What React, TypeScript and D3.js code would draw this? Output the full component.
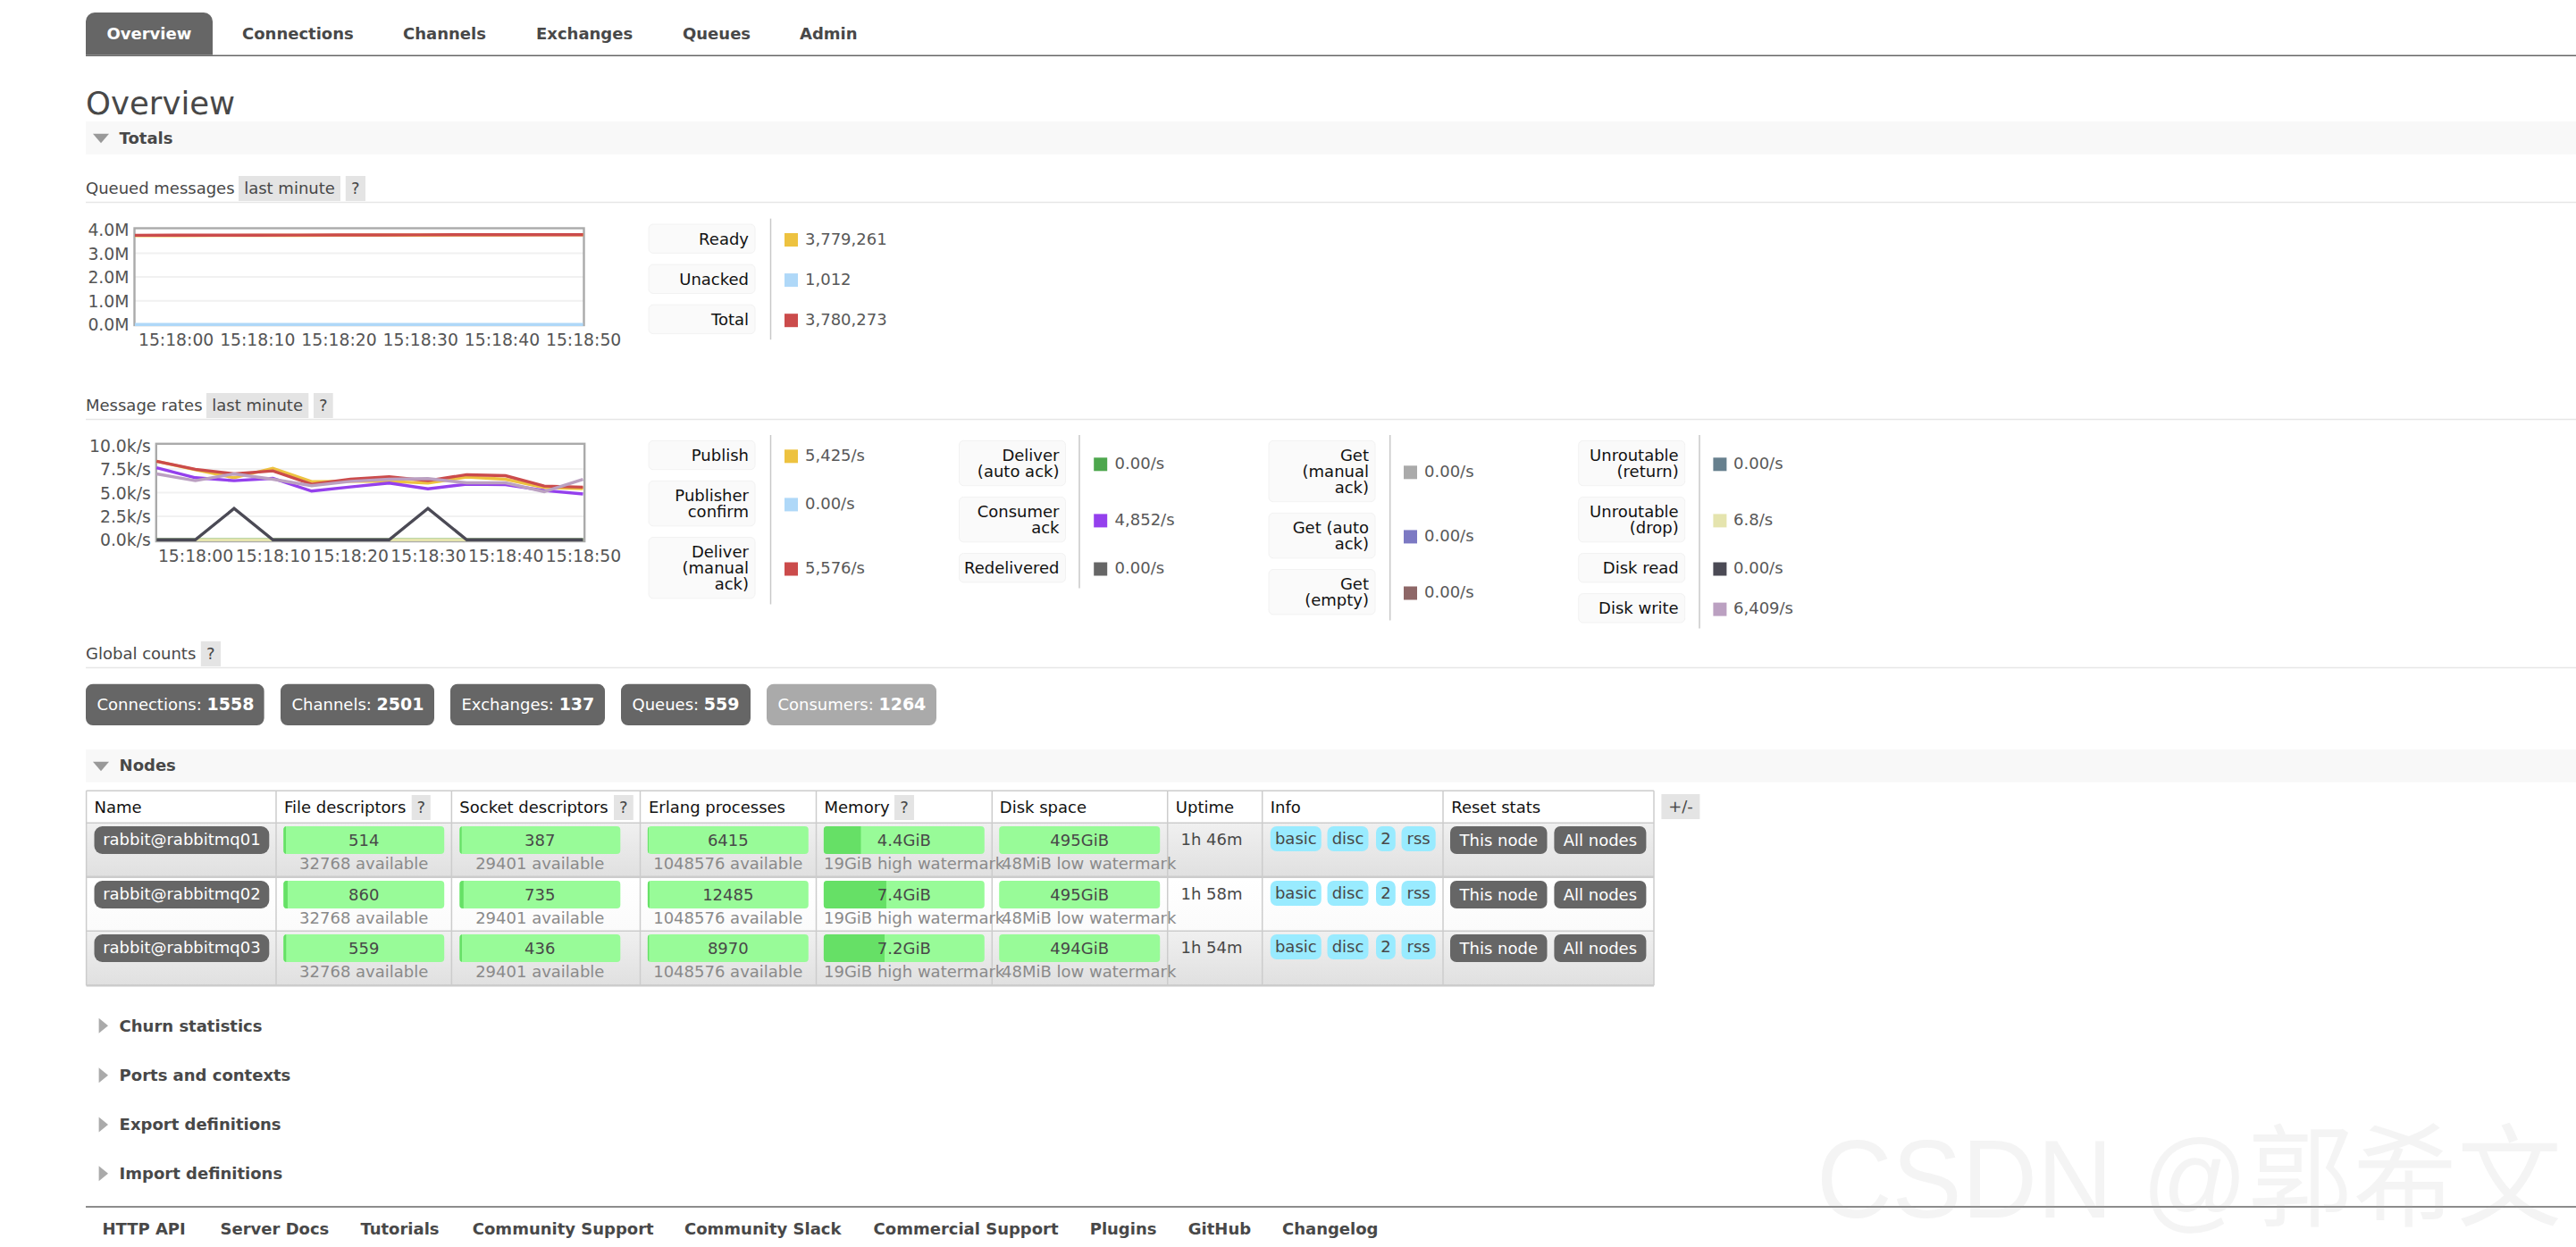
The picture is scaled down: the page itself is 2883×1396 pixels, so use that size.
import { useEffect, useRef } from 'react'
import * as d3 from 'd3'

// ---- data ----
const timeLabels = ['15:17:55', '15:18:00', '15:18:05', '15:18:10', '15:18:15', '15:18:20', '15:18:25', '15:18:30', '15:18:35', '15:18:40', '15:18:45', '15:18:50']
const tickLabels = ['15:18:00', '15:18:10', '15:18:20', '15:18:30', '15:18:40', '15:18:50']

const queuedTicks = [0, 1e6, 2e6, 3e6, 4e6]
const ready = [3742000, 3745000, 3748000, 3750000, 3753000, 3756000, 3759000, 3762000, 3766000, 3770000, 3774000, 3779261]
const unacked = [1040, 1020, 1035, 1010, 1000, 1025, 1015, 990, 1005, 1020, 1018, 1012]
const total = [3756000, 3759000, 3762000, 3764000, 3767000, 3770000, 3773000, 3776000, 3778000, 3779000, 3780000, 3780273]

const rateTicks = [0, 2500, 5000, 7500, 10000]
const publish = [8320, 7420, 6580, 7590, 6170, 6200, 6200, 6010, 6650, 6420, 5540, 5425]
const deliverManual = [8320, 7470, 6990, 7310, 5890, 6420, 6680, 6270, 6900, 6800, 5700, 5576]
const consumerAck = [7630, 6580, 6270, 6520, 5160, 5600, 6010, 5410, 5890, 5850, 5220, 4852]
const unroutableDrop = [0, 0, 6.8, 6.8, 0, 0, 0, 6.8, 6.8, 0, 0, 6.8]
const diskRead = [0, 0, 3320, 0, 0, 0, 0, 3320, 0, 0, 0, 0]
const diskWrite = [6990, 6270, 6990, 6420, 5730, 6200, 6420, 6490, 6040, 6040, 5100, 6409]
const zeros = [0, 0, 0, 0, 0, 0, 0, 0, 0, 0, 0, 0]

const navItems = ['Overview', 'Connections', 'Channels', 'Exchanges', 'Queues', 'Admin']
const footerItems = ['HTTP API', 'Server Docs', 'Tutorials', 'Community Support', 'Community Slack', 'Commercial Support', 'Plugins', 'GitHub', 'Changelog']
const collapsedSections = ['Churn statistics', 'Ports and contexts', 'Export definitions', 'Import definitions']

const queuedLegend = [
  { lines: ['Ready'], value: '3,779,261', color: '#edc240' },
  { lines: ['Unacked'], value: '1,012', color: '#afd8f8' },
  { lines: ['Total'], value: '3,780,273', color: '#cb4b4b' },
]
const rateLegend = [
  [
    { lines: ['Publish'], value: '5,425/s', color: '#edc240' },
    { lines: ['Publisher', 'confirm'], value: '0.00/s', color: '#afd8f8' },
    { lines: ['Deliver', '(manual', 'ack)'], value: '5,576/s', color: '#cb4b4b' },
  ],
  [
    { lines: ['Deliver', '(auto ack)'], value: '0.00/s', color: '#4da74d' },
    { lines: ['Consumer', 'ack'], value: '4,852/s', color: '#9440ed' },
    { lines: ['Redelivered'], value: '0.00/s', color: '#666666' },
  ],
  [
    { lines: ['Get', '(manual', 'ack)'], value: '0.00/s', color: '#aaaaaa' },
    { lines: ['Get (auto', 'ack)'], value: '0.00/s', color: '#7c79c3' },
    { lines: ['Get', '(empty)'], value: '0.00/s', color: '#8e6767' },
  ],
  [
    { lines: ['Unroutable', '(return)'], value: '0.00/s', color: '#67808e' },
    { lines: ['Unroutable', '(drop)'], value: '6.8/s', color: '#e5e4ae' },
    { lines: ['Disk read'], value: '0.00/s', color: '#4b4a55' },
    { lines: ['Disk write'], value: '6,409/s', color: '#bba0c1' },
  ],
]

const globalNames = ['Connections', 'Channels', 'Exchanges', 'Queues', 'Consumers']
const globalCounts = [1558, 2501, 137, 559, 1264]

const nodeHeaders = ['Name', 'File descriptors', 'Socket descriptors', 'Erlang processes', 'Memory', 'Disk space', 'Uptime', 'Info', 'Reset stats']
const nodeNames = ['rabbit@rabbitmq01', 'rabbit@rabbitmq02', 'rabbit@rabbitmq03']
const fileDesc = [514, 860, 559]
const socketDesc = [387, 735, 436]
const erlangProcs = [6415, 12485, 8970]
const memoryGiB = [4.4, 7.4, 7.2]
const diskGiB = [495, 495, 494]
const uptimes = ['1h 46m', '1h 58m', '1h 54m']
const infoTags = ['basic', 'disc', '2', 'rss']
const resetLabels = ['This node', 'All nodes']

// ---- layout ----
const W = 2883
const H = 1396
const LEFT = 96
const FONT = '"DejaVu Sans", Verdana, sans-serif'
const TEXT = '#484848'
const FS = 18

const navX = [119.5, 271, 451, 600, 764, 895]
const footerX = [114.4, 246.5, 403.4, 528.8, 766, 977.6, 1219.7, 1329.8, 1435]
const legendColX = [
  { box: 726, divider: 862.5, swatch: 878, value: 901 },
  { box: 1073.5, divider: 1208, swatch: 1224.2, value: 1247.6 },
  { box: 1420, divider: 1555.7, swatch: 1571, value: 1594 },
  { box: 1766.7, divider: 1902, swatch: 1917.4, value: 1940 },
]
const columnLines = [96.6, 309, 505.4, 716.5, 913.5, 1110.3, 1306.7, 1412.7, 1615, 1851]
const rowLines = [885.3, 921.3, 981.7, 1042.3, 1103.3]
const pillTop = [925, 986, 1046]
const headerX = [105.5, 318, 514.3, 726, 922.5, 1118.8, 1315.8, 1421.8, 1624.2]
const barX = [317.2, 514.3, 724.8, 921.8, 1118.2]
const tagX = [[1421.8, 1478.8], [1485.5, 1531.5], [1540, 1561.8], [1568.5, 1606.7]]
const resetX = [[1623, 1731.5], [1739.4, 1842.4]]
const globalX = [[96, 295.6], [314, 486], [504, 677], [695, 840], [858, 1048]]
const sectionY = [1149.3, 1204.7, 1260, 1314.7]

type G = d3.Selection<SVGGElement, unknown, null, undefined>

function label(g: G, x: number, y: number, str: string, opts: any = {}) {
  return g.append('text')
    .attr('x', x)
    .attr('y', y)
    .attr('dy', '0.29em')
    .attr('text-anchor', opts.anchor ?? 'start')
    .attr('fill', opts.fill ?? TEXT)
    .attr('font-family', opts.family ?? FONT)
    .attr('font-size', opts.size ?? FS)
    .attr('font-weight', opts.weight ?? 'normal')
    .text(str)
}

function box(g: G, x0: number, y0: number, x1: number, y1: number, fill: string, r = 0) {
  return g.append('rect')
    .attr('x', x0).attr('y', y0)
    .attr('width', x1 - x0).attr('height', y1 - y0)
    .attr('rx', r).attr('fill', fill)
}

function rule(g: G, x0: number, y0: number, x1: number, y1: number, color: string, w = 1.5) {
  g.append('line')
    .attr('x1', x0).attr('y1', y0).attr('x2', x1).attr('y2', y1)
    .attr('stroke', color).attr('stroke-width', w)
}

function subHeading(g: G, y: number, title: string, tagBoxes: number[][]) {
  label(g, LEFT, y, title)
  tagBoxes.forEach(([x0, x1], i) => {
    box(g, x0, y - 14.7, x1, y + 13.3, '#e4e4e4')
    label(g, (x0 + x1) / 2, y, i === tagBoxes.length - 1 ? '?' : 'last minute', { anchor: 'middle' })
  })
  rule(g, LEFT, y + 14.7, W, y + 14.7, '#e6e6e6')
}

function sectionBand(g: G, y0: number, y1: number, title: string, textY: number) {
  box(g, LEFT, y0, W, y1, '#f8f8f8')
  const mid = (y0 + y1) / 2
  g.append('path')
    .attr('d', `M104,${mid - 4.5}L122,${mid - 4.5}L113,${mid + 6}Z`)
    .attr('fill', '#999')
  label(g, 133.6, textY, title, { weight: 'bold' })
}

function drawLegend(g: G, col: { box: number; divider: number; swatch: number; value: number }, top: number, items: any[]) {
  let y = top
  const heights: Record<number, number> = { 1: 32.4, 2: 50.4, 3: 68.4 }
  items.forEach(item => {
    const h = heights[item.lines.length]
    box(g, col.box, y, col.box + 119, y + h, '#fafafa', 5).attr('stroke', '#f2f2f2').attr('stroke-width', 1)
    item.lines.forEach((line: string, i: number) => {
      label(g, col.box + 112, y + 17.4 + i * 18, line, { anchor: 'end', fill: '#111' })
    })
    const mid = y + h / 2 + 1.3
    box(g, col.swatch, mid - 7.5, col.swatch + 15, mid + 7.5, item.color)
    label(g, col.value, mid, item.value, { fill: '#585858' })
    y += h + 12.7
  })
  rule(g, col.divider, top - 6.3, col.divider, y - 6.1, '#c8c8c8')
}

function drawChart(
  g: G,
  frame: { left: number; right: number; top: number; bottom: number; x0: number; x1: number; y0: number; y1: number },
  ticks: number[],
  tickFormat: (v: number) => string,
  series: { values: number[]; color: string }[],
) {
  const parse = d3.timeParse('%H:%M:%S')
  const times = timeLabels.map(t => parse(t) as Date)
  const x = d3.scaleTime()
    .domain([times[0], times[times.length - 1]])
    .range([frame.x0, frame.x1])
  const y = d3.scaleLinear()
    .domain([ticks[0], ticks[ticks.length - 1]])
    .range([frame.y0, frame.y1])

  // grid
  ticks.slice(1, -1).forEach(t => rule(g, frame.left, y(t), frame.right, y(t), '#f1f1f1', 2))

  g.append('rect')
    .attr('x', frame.left).attr('y', frame.top)
    .attr('width', frame.right - frame.left).attr('height', frame.bottom - frame.top)
    .attr('fill', 'none').attr('stroke', '#aaa').attr('stroke-width', 2.4)

  const line = d3.line<number>()
    .x((_, i) => x(times[i]))
    .y(d => y(d))
  series.forEach(s => {
    g.append('path')
      .datum(s.values)
      .attr('d', line)
      .attr('fill', 'none')
      .attr('stroke', s.color)
      .attr('stroke-width', 3.4)
  })

  const yAxis = d3.axisLeft(y).tickValues(ticks).tickFormat(v => tickFormat(+v)).tickSize(0).tickPadding(0)
  const yg = g.append('g')
    .attr('transform', `translate(${frame.left - 6},0.5)`)
    .call(yAxis as any)
  const xAxis = d3.axisBottom(x)
    .tickValues(tickLabels.map(t => parse(t) as Date))
    .tickFormat(d3.timeFormat('%H:%M:%S') as any)
    .tickSize(0)
    .tickPadding(0)
  const xg = g.append('g')
    .attr('transform', `translate(0,${frame.bottom + 9.4})`)
    .call(xAxis as any)
  ;[yg, xg].forEach(a => {
    a.select('.domain').remove()
    a.selectAll('text').attr('font-family', FONT).attr('font-size', 18.8).attr('fill', '#555')
  })
}

function drawNodes(g: G) {
  const defs = g.append('defs')
  const grad = (id: string, a: string, b: string) => {
    const lg = defs.append('linearGradient').attr('id', id).attr('x1', 0).attr('y1', 0).attr('x2', 0).attr('y2', 1)
    lg.append('stop').attr('offset', 0).attr('stop-color', a)
    lg.append('stop').attr('offset', 1).attr('stop-color', b)
  }
  grad('rowOdd', '#f0f0f0', '#e0e0e0')
  grad('rowEven', '#ffffff', '#fbfbfb')

  const tableLeft = columnLines[0]
  const tableRight = columnLines[columnLines.length - 1]
  box(g, tableLeft, rowLines[0], tableRight, rowLines[1], '#fff')
  nodeNames.forEach((_, i) => {
    box(g, tableLeft, rowLines[i + 1], tableRight, rowLines[i + 2], `url(#${i % 2 ? 'rowEven' : 'rowOdd'})`)
  })
  columnLines.forEach(x => rule(g, x, rowLines[0], x, rowLines[4], '#ccc'))
  rowLines.forEach((y, i) => rule(g, tableLeft, y, tableRight, y, '#ccc', i === 2 || i === 4 ? 2.4 : 1.5))

  nodeHeaders.forEach((h, i) => label(g, headerX[i], 904.7, h, { fill: '#111' }))
  ;[[460.7, 481.8], [687, 708.8], [1001, 1023]].forEach(([x0, x1]) => {
    box(g, x0, 890, x1, 918, '#e4e4e4')
    label(g, (x0 + x1) / 2, 904.7, '?', { anchor: 'middle' })
  })
  box(g, 1859.4, 889, 1902.4, 917, '#e4e4e4')
  label(g, 1881, 903.5, '+/-', { anchor: 'middle' })

  const barWidth = 180
  const meters = [
    { values: fileDesc, limit: 32768, sub: '32768 available', subX: 0 },
    { values: socketDesc, limit: 29401, sub: '29401 available', subX: 0 },
    { values: erlangProcs, limit: 1048576, sub: '1048576 available', subX: 0 },
    { values: memoryGiB, limit: 19, sub: '19GiB high watermark', subX: 922, unit: 'GiB' },
    { values: diskGiB, limit: 1e9, sub: '48MiB low watermark', subX: 1121, unit: 'GiB' },
  ]

  nodeNames.forEach((name, row) => {
    const top = pillTop[row]
    box(g, 105.5, top, 301.3, top + 31, '#666', 9)
    label(g, 203.4, top + 16.2, name, { anchor: 'middle', fill: '#fff' })

    meters.forEach((m, c) => {
      const bx = barX[c]
      const scale = d3.scaleLinear().domain([0, m.limit]).range([0, barWidth])
      const clipId = `bar-${row}-${c}`
      g.append('clipPath').attr('id', clipId)
        .append('rect').attr('x', bx).attr('y', top).attr('width', barWidth).attr('height', 31).attr('rx', 4)
      box(g, bx, top, bx + barWidth, top + 31, '#98fb98', 4)
      box(g, bx, top, bx + scale(m.values[row]), top + 31, '#66e066').attr('clip-path', `url(#${clipId})`)
      label(g, bx + barWidth / 2, top + 17, `${m.values[row]}${m.unit ?? ''}`, { anchor: 'middle' })
      const subY = top + 42.7
      if (m.subX) {
        label(g, m.subX, subY, m.sub, { fill: '#8a8a8a' })
      } else {
        label(g, bx + barWidth / 2, subY, m.sub, { anchor: 'middle', fill: '#8a8a8a' })
      }
    })

    label(g, 1356, top + 15.3, uptimes[row], { anchor: 'middle' })
    infoTags.forEach((tag, i) => {
      const [x0, x1] = tagX[i]
      box(g, x0, top, x1, top + 28, '#99ebff', 7)
      label(g, (x0 + x1) / 2, top + 15, tag, { anchor: 'middle' })
    })
    resetLabels.forEach((text, i) => {
      const [x0, x1] = resetX[i]
      box(g, x0, top, x1, top + 31, '#666', 7)
      label(g, (x0 + x1) / 2, top + 17, text, { anchor: 'middle', fill: '#fff' })
    })
  })
}

export default function App() {
  const ref = useRef<SVGSVGElement | null>(null)

  useEffect(() => {
    const svg = d3.select(ref.current)
    svg.selectAll('*').remove()
    const g = svg.append('g') as unknown as G

    // top nav
    g.append('path').attr('d', 'M96,61.5V24a10,10 0 0 1 10,-10H228a10,10 0 0 1 10,10V61.5Z').attr('fill', '#666')
    navItems.forEach((item, i) => {
      label(g, navX[i], 38.7, item, { weight: 'bold', fill: i === 0 ? '#fff' : TEXT })
    })
    rule(g, LEFT, 62.3, W, 62.3, '#666')

    label(g, LEFT, 117.8, 'Overview', { size: 35.5 })
    sectionBand(g, 136, 172.7, 'Totals', 155.7)

    // queued messages
    subHeading(g, 211.7, 'Queued messages', [[267, 381], [386.8, 409]])
    drawChart(
      g,
      { left: 150.5, right: 653.5, top: 255.5, bottom: 364, x0: 151, x1: 652.6, y0: 363.3, y1: 256.9 },
      queuedTicks,
      v => `${(v / 1e6).toFixed(1)}M`,
      [
        { values: ready, color: '#edc240' },
        { values: unacked, color: '#afd8f8' },
        { values: total, color: '#cb4b4b' },
      ],
    )
    drawLegend(g, legendColX[0], 251, queuedLegend)

    // message rates
    subHeading(g, 454.7, 'Message rates', [[231, 345.3], [351, 372.7]])
    drawChart(
      g,
      { left: 174.8, right: 654.2, top: 496.8, bottom: 606, x0: 175.2, x1: 652.5, y0: 604.3, y1: 498.7 },
      rateTicks,
      v => `${(v / 1e3).toFixed(1)}k/s`,
      [
        { values: publish, color: '#edc240' },
        { values: zeros, color: '#afd8f8' },
        { values: deliverManual, color: '#cb4b4b' },
        { values: zeros, color: '#4da74d' },
        { values: consumerAck, color: '#9440ed' },
        { values: unroutableDrop, color: '#e5e4ae' },
        { values: diskRead, color: '#4b4a55' },
        { values: diskWrite, color: '#bba0c1' },
      ],
    )
    rateLegend.forEach((items, i) => drawLegend(g, legendColX[i], 493.3, items))

    // global counts
    subHeading(g, 732.7, 'Global counts', [[224.8, 247]])
    globalNames.forEach((name, i) => {
      const [x0, x1] = globalX[i]
      box(g, x0, 765.7, x1, 812, i === 4 ? '#aaa' : '#666', 8)
      const t = label(g, x0 + 12.5, 789.3, `${name}: `, { fill: '#fff' }).attr('xml:space', 'preserve')
      t.append('tspan').attr('font-weight', 'bold').attr('font-size', 19).text(globalCounts[i])
    })

    sectionBand(g, 839, 875.7, 'Nodes', 857.7)
    drawNodes(g)

    collapsedSections.forEach((title, i) => {
      const y = sectionY[i]
      g.append('path')
        .attr('d', `M110.6,${y - 9.5}L121,${y - 1}L110.6,${y + 7.5}Z`)
        .attr('fill', '#aaa')
      label(g, 133.6, y, title, { weight: 'bold' })
    })

    rule(g, LEFT, 1351, W, 1351, '#666')
    footerItems.forEach((item, i) => label(g, footerX[i], 1376.7, item, { weight: 'bold' }))

    // watermark
    g.append('text')
      .attr('x', 2033)
      .attr('y', 1363)
      .attr('font-family', '"Liberation Sans", "Noto Sans CJK SC", sans-serif')
      .attr('font-size', 125)
      .attr('textLength', 834)
      .attr('lengthAdjust', 'spacingAndGlyphs')
      .attr('fill', '#aaa')
      .attr('fill-opacity', 0.13)
      .text('CSDN @郭希文')
  }, [])

  return (
    <svg
      ref={ref}
      width={W}
      height={H}
      viewBox={`0 0 ${W} ${H}`}
      style={{ position: 'absolute', left: 0, top: 0, display: 'block', background: '#fff' }}
    />
  )
}
